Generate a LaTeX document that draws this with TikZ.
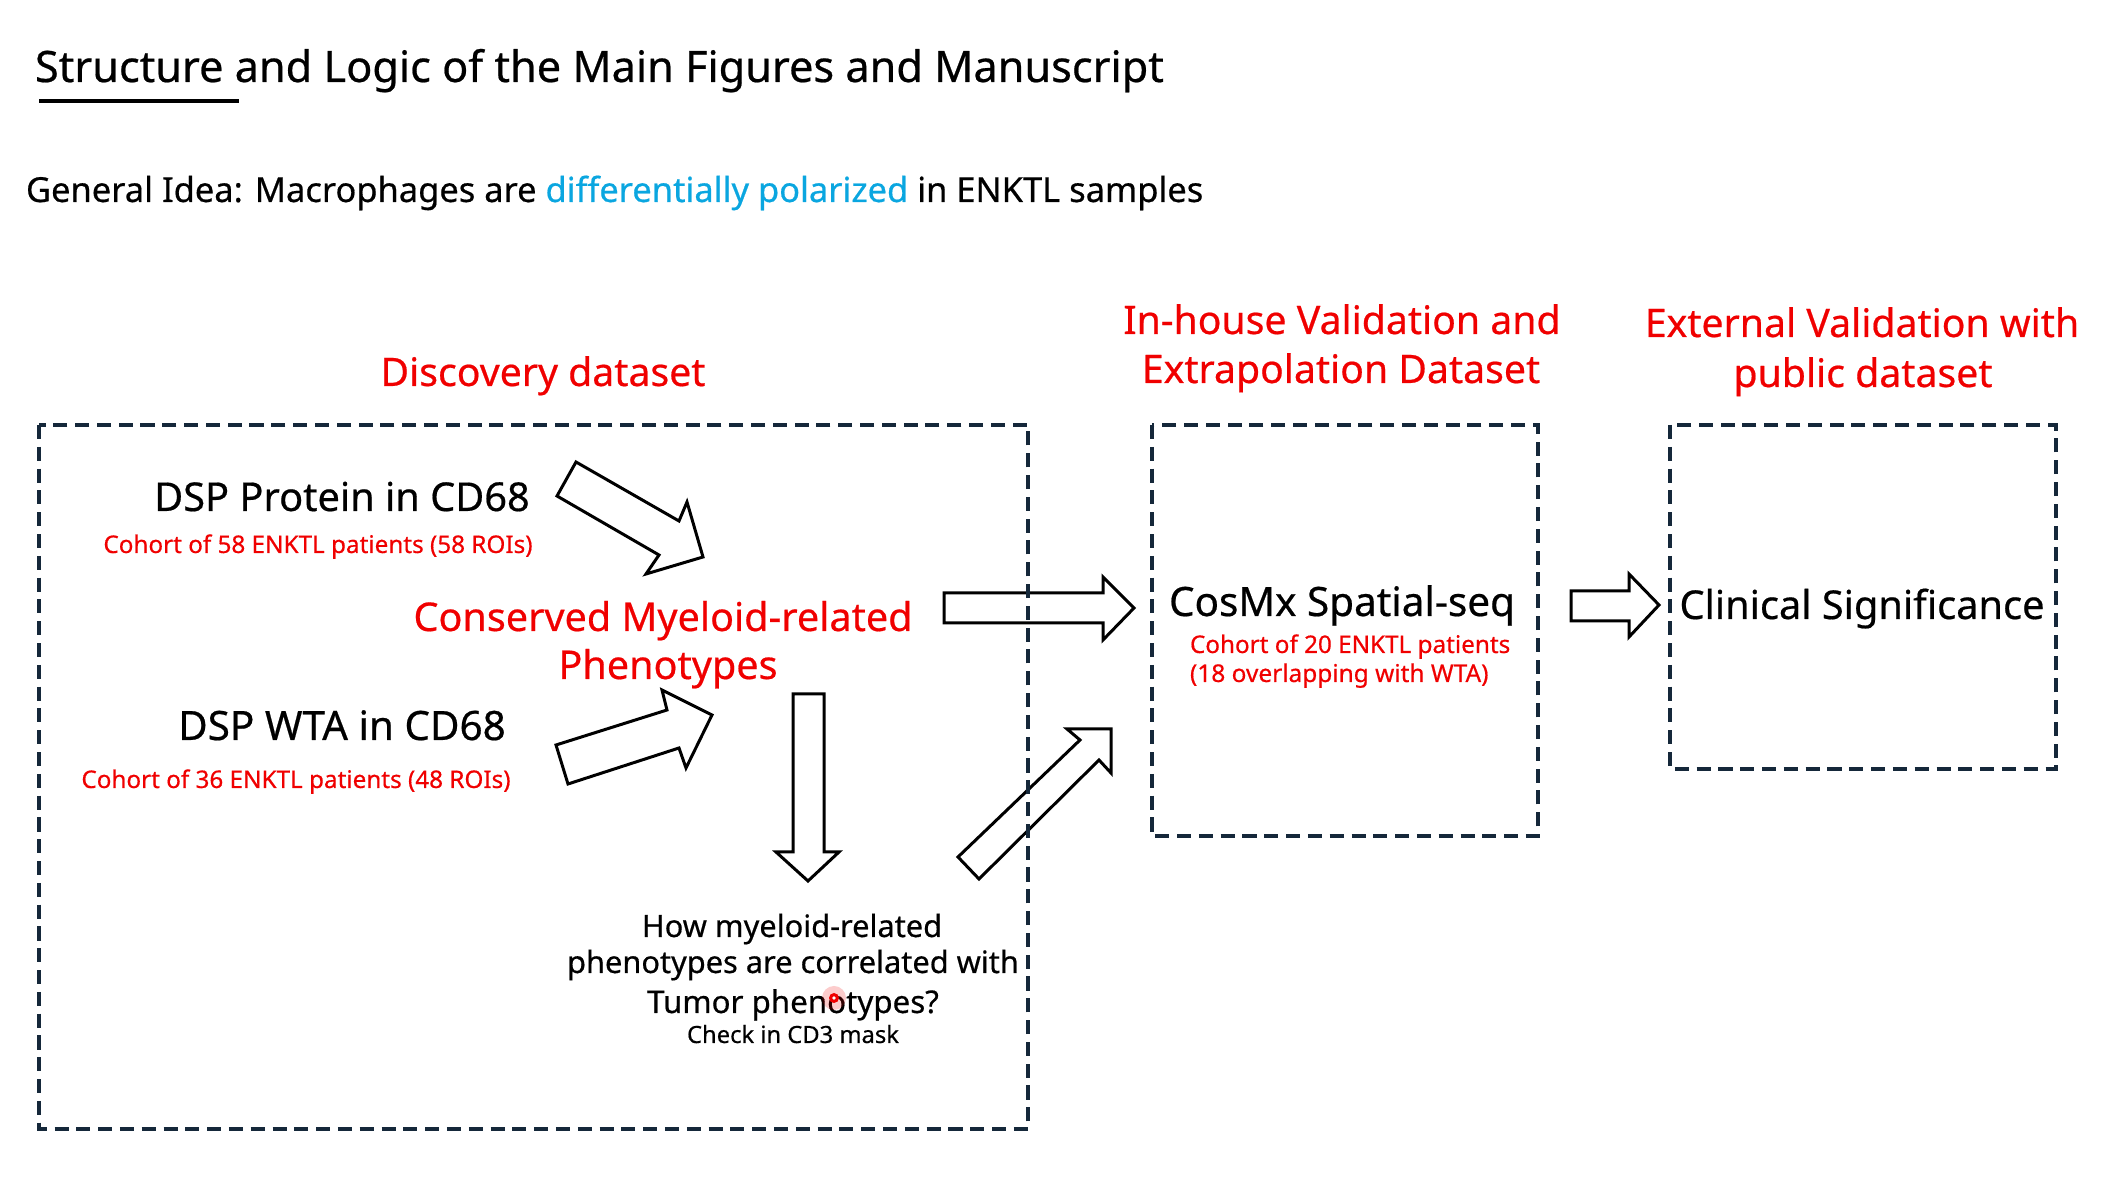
\documentclass[tikz,border=0pt]{standalone}
\usepackage{fontspec}
\setmainfont{Noto Sans}[FakeBold=0.5]
\newfontfamily\heavyfont{Noto Sans}[FakeBold=0.5]
\definecolor{hdred}{HTML}{F00000}
\definecolor{idblue}{HTML}{0AA6E0}
\definecolor{boxnavy}{HTML}{15283A}
\tikzset{
  dbox/.style={draw=boxnavy, line width=1.15pt, dash pattern=on 4pt off 2.2pt},
  barrow/.style={draw=black, fill=white, line width=0.85pt, line join=miter},
  txt/.style={inner sep=0pt, outer sep=0pt, anchor=base},
  hdr/.style={txt, text=hdred, font=\heavyfont\fontsize{11.15}{13}\selectfont},
  bigblk/.style={txt, text=black, font=\heavyfont\fontsize{11.3}{13}\selectfont},
  smred/.style={txt, text=hdred, font=\heavyfont\fontsize{6.9}{8}\selectfont},
  midblk/.style={txt, text=black, font=\heavyfont\fontsize{8.75}{10}\selectfont},
}
\begin{document}
\begin{tikzpicture}[x=0.01cm, y=-0.01cm]
\useasboundingbox[fill=white] (0,0) rectangle (2127,1177);

% title and idea
\node[txt, anchor=base west, font=\heavyfont\fontsize{12.3}{14}\selectfont] (title) at (35,82) {Structure and Logic of the Main Figures and Manuscript};
\draw[line width=1.15pt] (39,101) -- (239,101);
\node[txt, anchor=base west, font=\heavyfont\fontsize{9.8}{11}\selectfont] (idea) at (26,202) {General Idea: Macrophages are \textcolor{idblue}{differentially polarized} in ENKTL samples};

% headers
\node[hdr] (h1) at (543,386) {Discovery dataset};
\node[hdr] (h2a) at (1342,334) {In-house Validation and};
\node[hdr] (h2b) at (1341,383) {Extrapolation Dataset};
\node[hdr] (h3a) at (1862,337) {External Validation with};
\node[hdr] (h3b) at (1863,387) {public dataset};

% block arrows
\draw[barrow] (576,462) -- (679,521) -- (687,502) -- (703,557) -- (646,574) -- (659,555) -- (557,496) -- cycle;
\draw[barrow] (556,745) -- (667,710) -- (662,690) -- (712,715) -- (686,768) -- (679,748) -- (568,784) -- cycle;
\draw[barrow] (793,694) -- (824,694) -- (824,852) -- (839,852) -- (808,881) -- (776,852) -- (793,852) -- cycle;
\draw[barrow] (958,857) -- (1080,740) -- (1067,729) -- (1111,729) -- (1111,773) -- (1099,760) -- (979,879) -- cycle;
\draw[barrow] (944,593) -- (1103,593) -- (1103,577) -- (1134,608) -- (1103,640) -- (1103,623) -- (944,623) -- cycle;
\draw[barrow] (1571,591) -- (1629,591) -- (1629,574) -- (1659,605) -- (1629,637) -- (1629,621) -- (1571,621) -- cycle;

% dashed boxes
\draw[dbox] (39,425) rectangle (1028,1129);
\draw[dbox] (1152,425) rectangle (1538,836);
\draw[dbox] (1670,425) rectangle (2056,769);

% discovery box texts
\node[bigblk] (dspp) at (342,511) {DSP Protein in CD68};
\node[smred] (c58) at (318,553) {Cohort of 58 ENKTL patients (58 ROIs)};
\node[hdr, font=\heavyfont\fontsize{11.25}{13}\selectfont] (cons1) at (663,631) {Conserved Myeloid-related};
\node[hdr, font=\heavyfont\fontsize{11.25}{13}\selectfont] (cons2) at (668,679) {Phenotypes};
\node[bigblk, font=\heavyfont\fontsize{11.5}{13}\selectfont] (dspw) at (342,740) {DSP WTA in CD68};
\node[smred] (c36) at (296,788) {Cohort of 36 ENKTL patients (48 ROIs)};
\node[midblk] (q1) at (792,937) {How myeloid-related};
\node[midblk] (q2) at (793,973) {phenotypes are correlated with};
\node[midblk, font=\heavyfont\fontsize{8.9}{10}\selectfont] (q3) at (793,1013) {Tumor phenotypes?};
\node[txt, font=\heavyfont\fontsize{6.75}{8}\selectfont] (q4) at (793,1043) {Check in CD3 mask};

% red pointer dot
\fill[hdred, opacity=0.2] (834,998) circle (12);
\fill[hdred] (834,998) circle (5);
\fill[white] (834,998) circle (1.8);

% validation boxes texts
\node[bigblk, font=\heavyfont\fontsize{11.5}{13}\selectfont] (cosmx) at (1342,616) {CosMx Spatial-seq};
\node[smred, anchor=base west, font=\heavyfont\fontsize{6.9}{8}\selectfont] (c20a) at (1190,653) {Cohort of 20 ENKTL patients};
\node[smred, anchor=base west, font=\heavyfont\fontsize{6.95}{8}\selectfont] (c20b) at (1190,682) {(18 overlapping with WTA)};
\node[bigblk, font=\heavyfont\fontsize{11.3}{13}\selectfont] (clin) at (1862,619) {Clinical Significance};
\end{tikzpicture}
\end{document}
